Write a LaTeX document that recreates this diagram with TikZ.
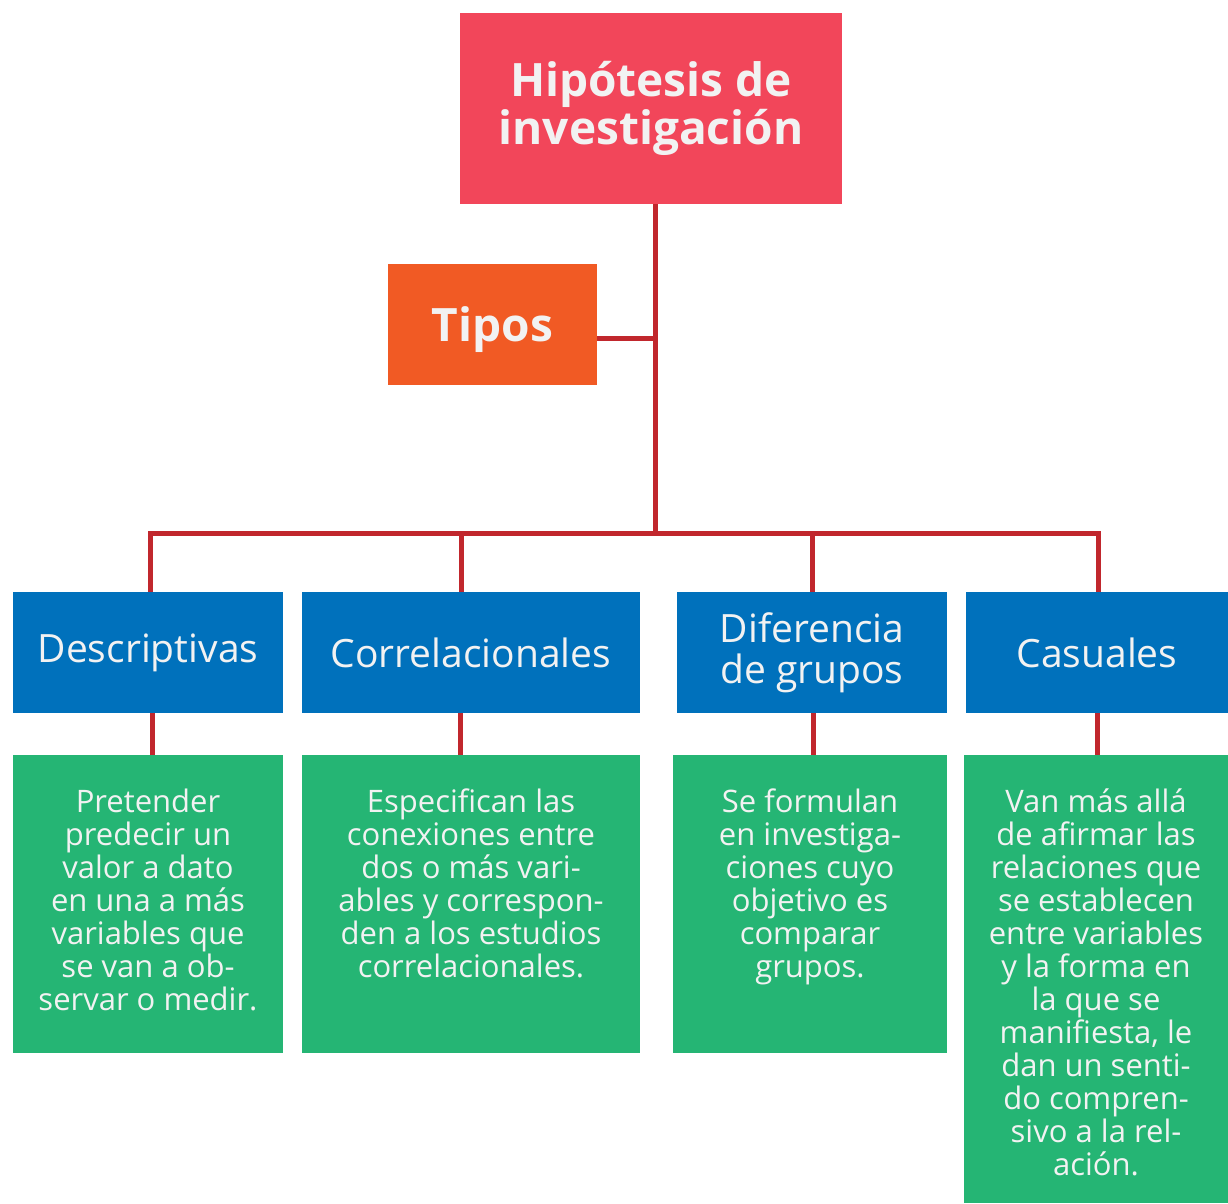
\documentclass[tikz,border=0pt]{standalone}
\usepackage{fontspec}
\setmainfont{Open Sans}
\definecolor{titlered}{HTML}{F2465A}
\definecolor{tiposor}{HTML}{F15A24}
\definecolor{typeblue}{HTML}{0071BC}
\definecolor{descgreen}{HTML}{25B574}
\definecolor{linered}{HTML}{C1272D}
\definecolor{txtwhite}{HTML}{F2F2F2}
\tikzset{
  box/.style={rectangle, inner sep=0pt, outer sep=0pt, text=txtwhite, align=center},
  titlebox/.style={box, fill=titlered, font=\fontsize{46}{46}\selectfont\bfseries},
  tiposbox/.style={box, fill=tiposor, text depth=0pt, font=\fontsize{46}{46}\selectfont\bfseries},
  typebox/.style={box, fill=typeblue, minimum height=121pt, font=\fontsize{39}{41}\selectfont},
  greenbox/.style={box, fill=descgreen, anchor=north},
  greentext/.style={box, anchor=north, font=\fontsize{31}{33}\selectfont},
  conn/.style={draw=linered, line width=5pt}
}
\begin{document}
\begin{tikzpicture}[x=1pt,y=-1pt]
\useasboundingbox (0,0) rectangle (1228,1203);
% boxes
\node[titlebox, minimum width=382pt, minimum height=191pt] (title) at (651,108.5) {Hipótesis de\\investigación};
\node[tiposbox, minimum width=209pt, minimum height=121pt] (tipos) at (492.5,324.5) {Tipos};
\node[typebox, minimum width=270pt] (desc) at (148,652.5) {Descriptivas};
\node[typebox, minimum width=338pt] (corr) at (471,652.5) {Correlacionales};
\node[typebox, minimum width=270pt] (dif) at (812,652.5) {Diferencia\\de grupos};
\node[typebox, minimum width=262pt] (cas) at (1097,652.5) {Casuales};
\node[greenbox, minimum width=270pt, minimum height=298pt] (gdesc) at (148,755) {};
\node[greenbox, minimum width=338pt, minimum height=298pt] (gcorr) at (471,755) {};
\node[greenbox, minimum width=274pt, minimum height=298pt] (gdif) at (810,755) {};
\node[greenbox, minimum width=264pt, minimum height=448pt] (gcas) at (1096,755) {};
\node[greentext] (tdesc) at (gdesc.north) [yshift=-34pt] {Pretender\\predecir un\\valor a dato\\en una a más\\variables que\\se van a ob-\\servar o medir.};
\node[greentext] (tcorr) at (gcorr.north) [yshift=-34pt] {Especifican las\\conexiones entre\\dos o más vari-\\ables y correspon-\\den a los estudios\\correlacionales.};
\node[greentext] (tdif) at (gdif.north) [yshift=-34pt] {Se formulan\\en investiga-\\ciones cuyo\\objetivo es\\comparar\\grupos.};
\node[greentext] (tcas) at (gcas.north) [yshift=-34pt] {Van más allá\\de afirmar las\\relaciones que\\se establecen\\entre variables\\y la forma en\\la que se\\manifiesta, le\\dan un senti-\\do compren-\\sivo a la rel-\\ación.};
% connectors
\coordinate (bus) at (655,533);
\coordinate (busl) at (150,533);
\coordinate (busr) at (1098,533);
\draw[conn] (title.south -| bus) -- (bus);
\draw[conn] ([yshift=-13.5pt]tipos.east) -- ([yshift=-13.5pt]tipos.east -| bus);
\draw[conn] (desc.north -| busl) -- (busl) -- (busr) -- (cas.north -| busr);
\draw[conn] ([xshift=-10pt]corr.north) -- ([xshift=-10pt]corr.north |- bus);
\draw[conn] (dif.north) -- (dif.north |- bus);
\draw[conn] ([xshift=4pt]desc.south) -- ([xshift=4pt]desc.south |- gdesc.north);
\draw[conn] ([xshift=-11pt]corr.south) -- ([xshift=-11pt]corr.south |- gcorr.north);
\draw[conn] ([xshift=1pt]dif.south) -- ([xshift=1pt]dif.south |- gdif.north);
\draw[conn] (cas.south) -- (cas.south |- gcas.north);
\end{tikzpicture}
\end{document}
